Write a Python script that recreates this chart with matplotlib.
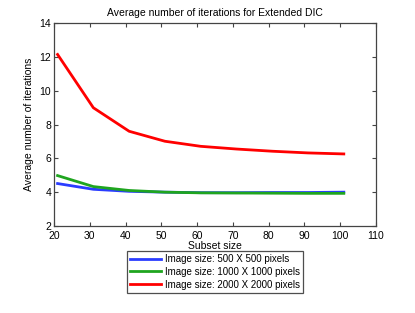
import matplotlib
matplotlib.use("Agg")
import matplotlib.pyplot as plt

subset_size = [21, 31, 41, 51, 61, 71, 81, 91, 101]
iters_500 = [4.51, 4.17, 4.05, 4.00, 3.97, 3.97, 3.98, 3.98, 4.00]
iters_1000 = [4.98, 4.33, 4.10, 4.00, 3.96, 3.95, 3.94, 3.93, 3.93]
iters_2000 = [12.14, 8.99, 7.60, 7.01, 6.71, 6.55, 6.42, 6.32, 6.26]
labels = ["Image size: 500 X 500 pixels",
          "Image size: 1000 X 1000 pixels",
          "Image size: 2000 X 2000 pixels"]
colors = ["#2a3cff", "#1fa51f", "#ff0000"]

plt.rcParams['font.family'] = ['Liberation Sans', 'DejaVu Sans']
fig = plt.figure(figsize=(4.15, 3.13), dpi=100)
ax = fig.add_axes([54/415, 1-226/313, (376-54)/415, (226-23)/313])

for y, lab, c in zip([iters_500, iters_1000, iters_2000], labels, colors):
    ax.plot(subset_size, y, color=c, lw=2.0, label=lab)

ax.set_xlim(20, 110)
ax.set_ylim(2, 14)
ax.set_xticks(range(20, 111, 10))
ax.set_yticks(range(2, 15, 2))
ax.tick_params(direction='in', top=True, right=True, labelsize=7.5,
               length=3, color='#444444', pad=2)
ax.tick_params(axis='x', pad=3.5)
for s in ax.spines.values():
    s.set_color('#444444')
    s.set_linewidth(0.9)
ax.set_title("Average number of iterations for Extended DIC", fontsize=7.5, pad=5)
ax.set_xlabel("Subset size", fontsize=7.5, labelpad=0)
ax.set_ylabel("Average number of iterations", fontsize=7.5, labelpad=4)

leg = fig.legend(loc='upper center', bbox_to_anchor=(215/415, 1-251/313),
                 fontsize=7.0, frameon=True, fancybox=False, edgecolor='#222222',
                 handlelength=3.2, handletextpad=0.4, borderpad=0.3,
                 labelspacing=0.3, borderaxespad=0)
leg.get_frame().set_linewidth(0.9)

fig.savefig("out.png", dpi=100)
